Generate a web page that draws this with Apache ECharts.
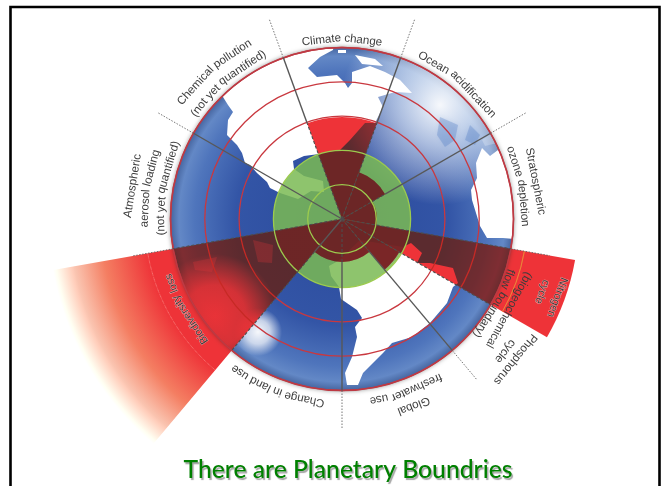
<!DOCTYPE html>
<html><head><meta charset="utf-8">
<style>html,body{margin:0;padding:0;background:#fff}#c{width:661px;height:486px}</style>
<script src="https://cdn.jsdelivr.net/npm/echarts@6/dist/echarts.min.js"></script>
</head><body><div id="c"></div>
<script>
// Planetary boundaries: angle is clockwise from north; radius unit = one ring
const boundaryNames = ['Climate change','Ocean acidification','Stratospheric ozone depletion','Nitrogen cycle','Phosphorus cycle','Global freshwater use','Change in land use','Biodiversity loss','Atmospheric aerosol loading','Chemical pollution'];
const boundaryStart = [340,20,60,100,120,140,180,220,260,300];
const boundaryEnd   = [380,60,100,120,140,180,220,260,300,340];
const boundaryValue = [2.97,1.45,1.02,6.9,1.93,1.25,1.25,8.8,0,0];
const ringValues = [3,4,5];
const safeRingValues = [1,2];
const rimValue = 5;

const labelTexts  = ['Climate change','Ocean acidification','Stratospheric','ozone depletion','Nitrogen','cycle','(biogeochemical','flow boundary)','Phosphorus','cycle','Global','freshwater use','Change in land use','Biodiversity loss','Atmospheric','aerosol loading','(not yet quantified)','Chemical pollution','(not yet quantified)'];
const labelAngles = [0,40.5,79,79.5,110,110,118.6,119,129,129,159,159.5,201,240,279,279,280,319,320];
const labelRadii  = [180,181,197,182,229,213,190,176,223,210,200,184,184,182,212,197,181,198,181];
const labelInRed  = [0,0,0,0,1,1,0,0,0,0,0,0,0,1,0,0,0,0,0];

// solid: [angle, from, to]; dashed: [angle, from, to]; dotted: [angle, from, to]
const spokesSolid = [[340,2.97,5],[20,2.97,5],[60,1.45,5],[140,1.25,5],[180,1.25,5],[220,0,1.25],[300,0,5]];
const spokesDashed = [[340,0,2.97],[20,0,2.97],[60,0,1.45],[100,0,5],[120,0,5],[140,0,1.25],[180,0,1.25],[260,0,5],[220,1.25,5]];
const spokesDotted = [[340,5,6.2],[20,5,6.2],[60,5,6.2],[100,5,6.15],[140,5,6.1],[180,5,6.1],[260,5,6.2],[300,5,6.2]];

// Globe artwork outlines, page pixels
const landWhite = [
 [[223,97],[228,105],[233,112],[228,120],[227,135],[237,145],[242,153],[245,163],[250,165],[257,173],[267,182],[270,188],[280,193],[298,199],[311,191],[324,192],[323,181],[304,176],[294,169],[293,161],[304,156],[319,154],[330,152],[340,150],[350,140],[365,123],[375,123],[383,107],[378,97],[395,92],[412,93],[400,80],[385,72],[370,66],[352,72],[352,83],[348,88],[345,83],[337,75],[317,77],[308,68],[320,57],[333,50],[335,40],[280,40],[215,80]],
 [[482,148],[490,156],[498,150],[510,160],[525,190],[525,240],[503,238],[487,238],[480,226],[472,200],[471,190],[477,178],[476,163]],
 [[338,261],[360,240],[403,247],[411,243],[422,253],[417,263],[430,263],[453,268],[458,283],[453,287],[447,303],[430,323],[412,337],[392,343],[383,353],[363,373],[358,385],[347,385],[345,373],[352,357],[357,337],[355,327],[362,318],[357,310],[341,299],[339,287],[331,276],[329,266]],
 [[338,50],[346,50],[346,53],[338,53]],
 [[355,55],[375,59],[383,66],[362,64]]
];
const landFaint = [
 [[193,262],[217,257],[212,272],[195,270]],
 [[253,240],[273,245],[272,263],[258,262]],
 [[482,140],[492,133],[497,143],[485,146]]
];
const seaFaint = [
 [[440,117],[458,125],[455,140],[445,147],[437,135]],
 [[470,125],[480,135],[475,145],[465,140]]
];

const CX = 342, CY = 219, UNIT = 34.3, MAXV = 9;
const rad = d => d * Math.PI / 180;
const toPolar = p => { const dx = p[0]-CX, dy = p[1]-CY; return [Math.hypot(dx,dy)/UNIT, (Math.atan2(dx,-dy)*180/Math.PI+360)%360]; };
const rPx = (api,v) => { const c = api.coord([v,0]); return Math.abs(CY - c[1]); };
const grad = (x,y,r,stops) => ({type:'radial',x,y,r,global:true,colorStops:stops.map(s=>({offset:s[0],color:s[1]}))});
const clip = () => ({type:'circle',shape:{cx:CX,cy:CY,r:UNIT*rimValue}});
const idx = a => a.map((_,i)=>[i,0]);
const custom = (z,data,renderItem) => ({type:'custom',coordinateSystem:'polar',z,data,renderItem,silent:true,animation:false,clip:false});

function sector(api,r0,r1,a0,a1,style,name){
  return {type:'sector',name:name||'',shape:{cx:CX,cy:CY,r0:rPx(api,r0),r:rPx(api,r1),startAngle:rad(a0-90),endAngle:rad(a1-90),clockwise:true},style};
}
function polygons(set,style){
  return (p,api)=>({type:'polygon',clipPath:clip(),shape:{points:set[p.dataIndex].map(q=>api.coord(toPolar(q)))},style});
}
const ctx = document.createElement('canvas').getContext('2d');
const labelElements = [];
labelTexts.forEach((t,i)=>{
  const font = (labelInRed[i]?'11px':'11.6px')+' "Liberation Sans"';
  ctx.font = font;
  const words = t.split(' ');
  const widths = words.map(w=>ctx.measureText(w).width), sp = ctx.measureText(' ').width;
  const total = widths.reduce((a,b)=>a+b,0)+sp*(words.length-1);
  let pos = -total/2;
  words.forEach((w,k)=>{
    const mid = pos+widths[k]/2; pos += widths[k]+sp;
    labelElements.push({w,font,red:labelInRed[i],r:labelRadii[i],a:labelAngles[i]+mid/labelRadii[i]*180/Math.PI});
  });
});

const wedgeMul = '#b70d1a', wedgeAdd = '#37261e';
const series = [
  custom(1,[[0,0]],(p,api)=>({type:'group',children:[
    {type:'circle',shape:{cx:CX,cy:CY,r:rPx(api,rimValue)},style:{fill:grad(CX,CY,UNIT*rimValue,[[0,'#2b4a9c'],[.62,'#3355a6'],[.86,'#4f75bc'],[.95,'#6388c6'],[1,'#46659f']]),shadowBlur:5,shadowColor:'rgba(60,60,60,.7)'}},
    {type:'circle',shape:{cx:CX,cy:CY,r:rPx(api,rimValue)},style:{fill:grad(440,105,100,[[0,'rgba(255,255,255,.95)'],[.4,'rgba(235,243,252,.65)'],[1,'rgba(255,255,255,0)']])}},
    {type:'circle',shape:{cx:CX,cy:CY,r:rPx(api,rimValue)},style:{fill:grad(258,332,24,[[0,'rgba(255,255,255,.95)'],[.5,'rgba(255,255,255,.7)'],[1,'rgba(255,255,255,0)']])}}
  ]})),
  custom(2,idx(seaFaint),polygons(seaFaint,{fill:'rgba(80,125,195,.32)',shadowBlur:4,shadowColor:'rgba(80,125,195,.4)'})),
  custom(3,idx(landWhite),polygons(landWhite,{fill:'#fff'})),
  custom(3,idx(landFaint),polygons(landFaint,{fill:'rgba(255,255,255,.25)'})),
  custom(3,[[0,0]],(p,api)=>sector(api,0,rimValue,220,260,{fill:grad(215,316,62,[[0,'rgba(255,255,255,.95)'],[.5,'rgba(255,255,255,.8)'],[1,'rgba(255,255,255,0)']])})),
  custom(4,idx(ringValues),(p,api)=>({type:'circle',shape:{cx:CX,cy:CY,r:rPx(api,ringValues[p.dataIndex])},style:{fill:'none',stroke:'#c9383f',lineWidth:1.3}})),
  custom(5,[[0,0]],(p,api)=>({type:'circle',shape:{cx:CX,cy:CY,r:rPx(api,safeRingValues[1])},style:{fill:'rgba(122,186,84,.85)'}})),
  custom(6,idx(boundaryValue),(p,api)=>{
    const i=p.dataIndex, v=boundaryValue[i];
    if(!v) return null;
    const fill = v>8 ? grad(CX,CY,UNIT*v,[[0,wedgeMul],[.65,wedgeMul],[.8,'#bd5844'],[.9,'#c39e92'],[1,'#ffffff']]) : wedgeMul;
    return {type:'group',children:[
      sector(api,0,v,boundaryStart[i],boundaryEnd[i],{fill},'wedgeMultiply'),
      sector(api,0,v,boundaryStart[i],boundaryEnd[i],{fill:wedgeAdd},'wedgeLighter'),
      sector(api,0,Math.min(v,safeRingValues[1]),boundaryStart[i],boundaryEnd[i],{fill:'rgba(70,25,35,.4)'})
    ]};
  }),
  custom(7,idx(safeRingValues),(p,api)=>({type:'circle',shape:{cx:CX,cy:CY,r:rPx(api,safeRingValues[p.dataIndex])},style:{fill:'none',stroke:'#9ccb4e',lineWidth:1.3}})),
  custom(7,[[0,0]],(p,api)=>({type:'group',children:[
    sector(api,5.4,5.4,100,120,{fill:'none',stroke:'rgba(232,154,58,.7)',lineWidth:.8}),
    sector(api,5.75,5.75,220,260,{fill:'none',stroke:'rgba(255,190,180,.4)',lineWidth:.7,lineDash:[3,3]})
  ]})),
  custom(8,[[0,0]],(p,api)=>({type:'circle',shape:{cx:CX,cy:CY,r:rPx(api,rimValue)},style:{fill:'none',stroke:'#bd3a44',lineWidth:1.6}})),
  custom(9,idx(spokesSolid),(p,api)=>spoke(api,spokesSolid[p.dataIndex],{stroke:'#585858',lineWidth:1.4})),
  custom(9,idx(spokesDashed),(p,api)=>spoke(api,spokesDashed[p.dataIndex],{stroke:'#4d4d4d',lineWidth:1.1,lineDash:[3,2]})),
  custom(9,idx(spokesDotted),(p,api)=>spoke(api,spokesDotted[p.dataIndex],{stroke:'#666',lineWidth:.9,lineDash:[1.5,1.5]})),
  custom(10,idx(labelElements),(p,api)=>{
    const e=labelElements[p.dataIndex], c=api.coord([e.r/UNIT,e.a]);
    return {type:'text',x:c[0],y:c[1],rotation:-rad(e.a),style:{text:e.w,font:e.font,align:'center',verticalAlign:'middle',fill:'#3d3d3d',stroke:e.red?'rgba(255,225,225,.65)':null,lineWidth:e.red?.8:0}};
  })
];
function spoke(api,s,style){
  const a=api.coord([s[1],s[0]]), b=api.coord([s[2],s[0]]);
  return {type:'line',shape:{x1:a[0],y1:a[1],x2:b[0],y2:b[1]},style:Object.assign({fill:'none'},style)};
}

const chart = echarts.init(document.getElementById('c'),null,{renderer:'canvas',width:661,height:486});
chart.setOption({
  animation:false,
  backgroundColor:'#fff',
  title:{text:'There are Planetary Boundries',left:343,top:453,textAlign:'center',textStyle:{fontFamily:'Lato',fontWeight:500,fontSize:24.7,color:'#008000',textShadowColor:'rgba(90,90,90,.55)',textShadowBlur:1,textShadowOffsetX:1.5,textShadowOffsetY:1.5}},
  polar:{center:[CX,CY],radius:UNIT*MAXV},
  angleAxis:{type:'value',min:0,max:360,startAngle:90,clockwise:true,show:false},
  radiusAxis:{type:'value',min:0,max:MAXV,show:false},
  graphic:[{type:'rect',z:100,shape:{x:10.5,y:7,width:649,height:600},style:{fill:'none',stroke:'#000',lineWidth:2.6}}],
  series
});
// ECharts custom series drop the blend style, so set it on the drawn sectors
const zr = chart.getZr();
zr.storage.getDisplayList(true,true).forEach(el=>{
  if(el.name==='wedgeMultiply'){ el.style.blend='multiply'; el.dirty(); }
  if(el.name==='wedgeLighter'){ el.style.blend='lighter'; el.dirty(); }
});
zr.refreshImmediately();
</script></body></html>
